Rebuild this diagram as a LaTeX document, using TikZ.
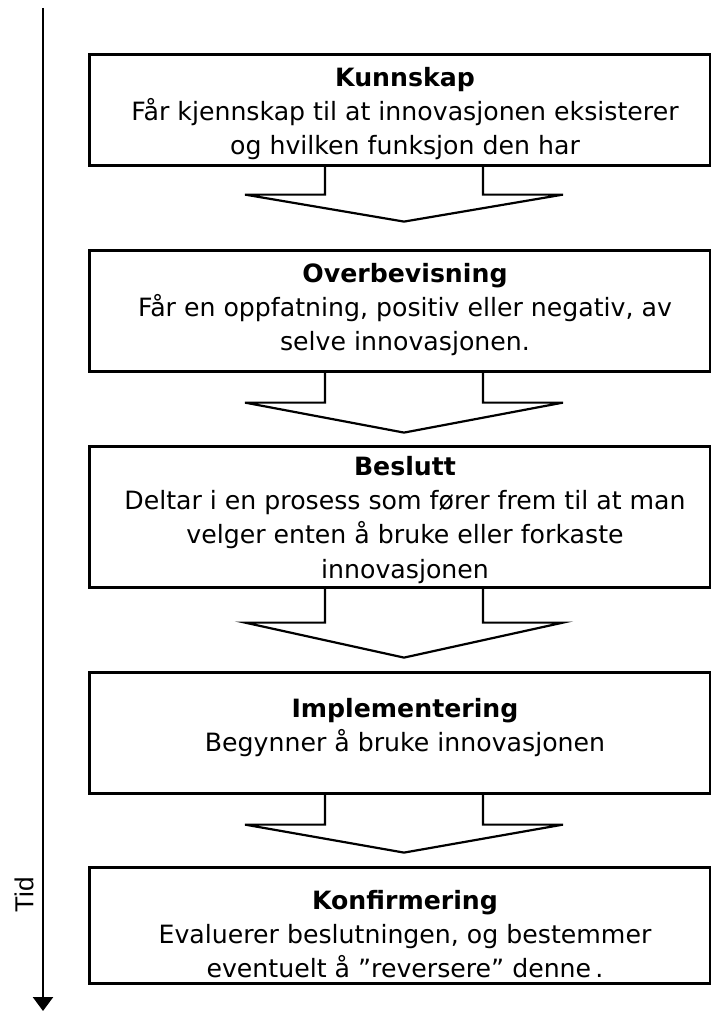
\documentclass[tikz,border=0pt]{standalone}
\usepackage{fontspec}
\setmainfont{DejaVu Sans}
\newfontfamily\tidfont{Liberation Sans}
\usetikzlibrary{arrows.meta}
\begin{document}
\begin{tikzpicture}[x=1pt,y=-1pt,
  stagebox/.style={draw=black,line width=2.6pt,rectangle,anchor=north west,inner sep=0pt},
  stagetext/.style={align=center,font=\fontsize{25.2}{34}\selectfont,inner sep=0pt},
  flowarrow/.style={draw=black,line width=2.2pt,line join=miter}]
\useasboundingbox (0,0) rectangle (710,1011);
% time axis
\coordinate (axtop) at (43,8);
\coordinate (axbot) at (43,1011);
\draw[line width=2.4pt,-{Triangle[width=20pt,length=14pt]}] (axtop) -- (axbot);
\node[rotate=90,font=\tidfont\fontsize{26}{30}\selectfont,inner sep=0pt] (tid) at (24,895) {Tid};
% boxes
\node[stagebox,minimum width=621pt,minimum height=111pt] (b1) at (88,53) {};
\node[stagebox,minimum width=621pt,minimum height=121pt] (b2) at (88,249) {};
\node[stagebox,minimum width=621pt,minimum height=141pt] (b3) at (88,445) {};
\node[stagebox,minimum width=621pt,minimum height=121pt] (b4) at (88,671) {};
\node[stagebox,minimum width=621pt,minimum height=116pt] (b5) at (88,866) {};
% texts
\node[stagetext] (t1) at (405,114) {\textbf{Kunnskap}\\Får kjennskap til at innovasjonen eksisterer\\og hvilken funksjon den har};
\node[stagetext] (t2) at (405,310) {\textbf{Overbevisning}\\Får en oppfatning, positiv eller negativ, av\\selve innovasjonen.};
\node[stagetext] (t3) at (405,520) {\textbf{Beslutt}\\Deltar i en prosess som fører frem til at man\\velger enten å bruke eller forkaste\\[1pt]innovasjonen};
\node[stagetext] (t4) at (405,728) {\textbf{Implementering}\\Begynner å bruke innovasjonen};
\node[stagetext] (t5) at (405,934) {\textbf{Konfirmering}\\Evaluerer beslutningen, og bestemmer\\eventuelt å ”reversere” denne\,.};
% block arrows
\coordinate (a1) at (b1.south -| 404,0);
\coordinate (a2) at (b2.south -| 404,0);
\coordinate (a3) at (b3.south -| 404,0);
\coordinate (a4) at (b4.south -| 404,0);
\draw[flowarrow] (a1) ++(-79,0) -- ++(0,28) -- ++(-80,0) -- ++(159,27) -- ++(159,-27) -- ++(-80,0) -- ++(0,-28);
\draw[flowarrow] (a2) ++(-79,0) -- ++(0,30) -- ++(-80,0) -- ++(159,30) -- ++(159,-30) -- ++(-80,0) -- ++(0,-30);
\draw[flowarrow] (a3) ++(-79,0) -- ++(0,34) -- ++(-80,0) -- ++(159,35) -- ++(159,-35) -- ++(-80,0) -- ++(0,-34);
\draw[flowarrow] (a4) ++(-79,0) -- ++(0,30) -- ++(-80,0) -- ++(159,28) -- ++(159,-28) -- ++(-80,0) -- ++(0,-30);
\end{tikzpicture}
\end{document}
